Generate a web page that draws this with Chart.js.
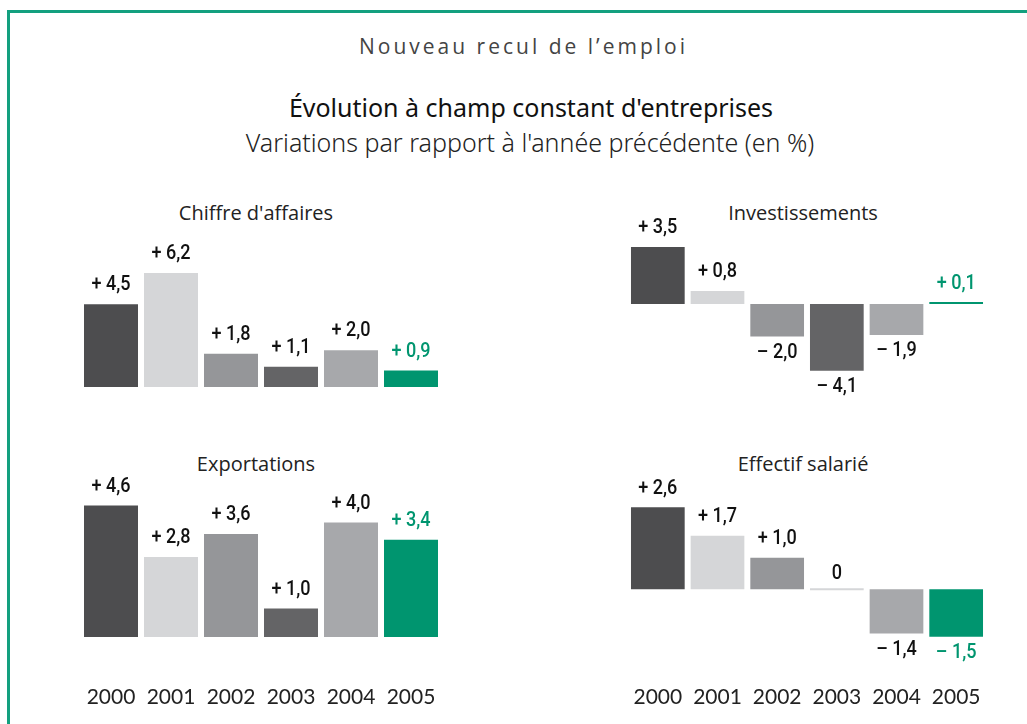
<!DOCTYPE html>
<html>
<head>
<meta charset="utf-8">
<script src="https://cdn.jsdelivr.net/npm/chart.js@4.4.1/dist/chart.umd.min.js"></script>
<style>
  html, body { margin: 0; padding: 0; background: #fff; }
  body { width: 1027px; height: 724px; position: relative; overflow: hidden; }
  .frame { position: absolute; left: 7px; top: 10px; width: 1100px; height: 800px;
           border-top: 3px solid #13a07f; border-left: 3px solid #13a07f; }
  .txt { position: absolute; text-align: center; white-space: nowrap; }
  #t1 { left: 0; width: 1047px; top: 32px; font: 21px "Open Sans", sans-serif; color: #444; letter-spacing: 3px; }
  #t2 { left: 0; width: 1062px; top: 90px; font: 25px "Noto Sans", sans-serif; color: #111; }
  #t3 { left: 0; width: 1060px; top: 125px; font: 300 25px "Noto Sans", sans-serif; color: #222; }
  .ptitle { font: 20px "Open Sans", sans-serif; color: #222; width: 300px; }
  canvas { position: absolute; }
</style>
</head>
<body>
<div class="frame"></div>
<div class="txt" id="t1">Nouveau recul de l’emploi</div>
<div class="txt" id="t2">Évolution à champ constant d'entreprises</div>
<div class="txt" id="t3">Variations par rapport à l'année précédente (en %)</div>

<div class="txt ptitle" style="left:106px; top:199px;">Chiffre d'affaires</div>
<div class="txt ptitle" style="left:653px; top:199px;">Investissements</div>
<div class="txt ptitle" style="left:106px; top:450px;">Exportations</div>
<div class="txt ptitle" style="left:653px; top:450px;">Effectif salarié</div>

<canvas id="c-ca" style="left:81px; top:240px;"></canvas>
<canvas id="c-inv" style="left:628px; top:210px;"></canvas>
<canvas id="c-exp" style="left:81px; top:474px;"></canvas>
<canvas id="c-eff" style="left:628px; top:474px;"></canvas>

<script>
// data
const years = ["2000", "2001", "2002", "2003", "2004", "2005"];
const chiffreAffaires = [4.5, 6.2, 1.8, 1.1, 2.0, 0.9];
const investissements = [3.5, 0.8, -2.0, -4.1, -1.9, 0.1];
const exportations = [4.6, 2.8, 3.6, 1.0, 4.0, 3.4];
const effectifSalarie = [2.6, 1.7, 1.0, 0, -1.4, -1.5];

// one shade per year, last year in green
const barColors = ["#4d4d4f", "#d5d6d8", "#959699", "#646466", "#a7a8ab", "#00956f"];
const zeroColor = "#d5d6d8";

function fmt(v) {
  if (v === 0) return "0";
  const s = Math.abs(v).toFixed(1).replace(".", ",");
  return (v > 0 ? "+ " : "– ") + s;
}

// draws "+ 4,5" style labels above / below each bar (condensed by scaling x)
const valueLabels = {
  id: "valueLabels",
  afterDatasetsDraw(chart) {
    const ctx = chart.ctx;
    const meta = chart.getDatasetMeta(0);
    const data = chart.data.datasets[0].data;
    const base = chart.scales.y.getPixelForValue(0);
    meta.data.forEach((bar, i) => {
      const v = data[i];
      const end = chart.scales.y.getPixelForValue(v);
      let y;
      if (v > 0) y = end - 19;
      else if (v < 0) y = end + 16;
      else y = base - 16;
      ctx.save();
      ctx.font = "500 21px Roboto, sans-serif";
      ctx.textAlign = "center";
      ctx.textBaseline = "middle";
      ctx.fillStyle = i === data.length - 1 ? "#00956f" : "#111";
      ctx.translate(bar.x, y);
      ctx.scale(0.86, 1);
      ctx.fillText(fmt(v), 0, 0);
      ctx.restore();
    });
  }
};

function makePanel(id, values, w, h, yMin, yMax, pad, showYears) {
  const canvas = document.getElementById(id);
  canvas.width = w;
  canvas.height = h;
  canvas.style.width = w + "px";
  canvas.style.height = h + "px";

  return new Chart(canvas.getContext("2d"), {
    type: "bar",
    data: {
      labels: years,
      datasets: [{
        data: values,
        backgroundColor: values.map((v, i) => v === 0 ? zeroColor : barColors[i]),
        borderWidth: 0,
        barPercentage: 0.9,
        categoryPercentage: 1.0,
        minBarLength: 2
      }]
    },
    options: {
      responsive: false,
      animation: false,
      layout: { padding: pad },
      plugins: { legend: { display: false }, tooltip: { enabled: false } },
      scales: {
        x: {
          display: showYears,
          grid: { display: false, drawTicks: false },
          border: { display: false },
          ticks: {
            // tall line height pushes the years well below the bars
            padding: 4,
            maxRotation: 0,
            minRotation: 0,
            autoSkip: false,
            color: "#222",
            font: { family: "Lato, sans-serif", size: 21, lineHeight: 112 / 21 }
          }
        },
        y: { display: false, min: yMin, max: yMax }
      }
    },
    plugins: [valueLabels]
  });
}

// top left: baseline at y=387, ~18.4 px per point
makePanel("c-ca", chiffreAffaires, 360, 160, 0, 6.9, { top: 20, bottom: 13 }, false);
// top right: baseline at y=304, ~16.3 px per point
makePanel("c-inv", investissements, 358, 200, -5.28, 4.23, { top: 25, bottom: 20 }, false);
// bottom left: baseline at y=637, ~29.4 px per point
makePanel("c-exp", exportations, 360, 283, 0, 5.0, { top: 20, bottom: 0 }, true);
// bottom right: baseline at y=588, ~32.5 px per point
makePanel("c-eff", effectifSalarie, 358, 283, -1.51, 3.4, { top: 8, bottom: 0 }, true);
</script>
</body>
</html>
